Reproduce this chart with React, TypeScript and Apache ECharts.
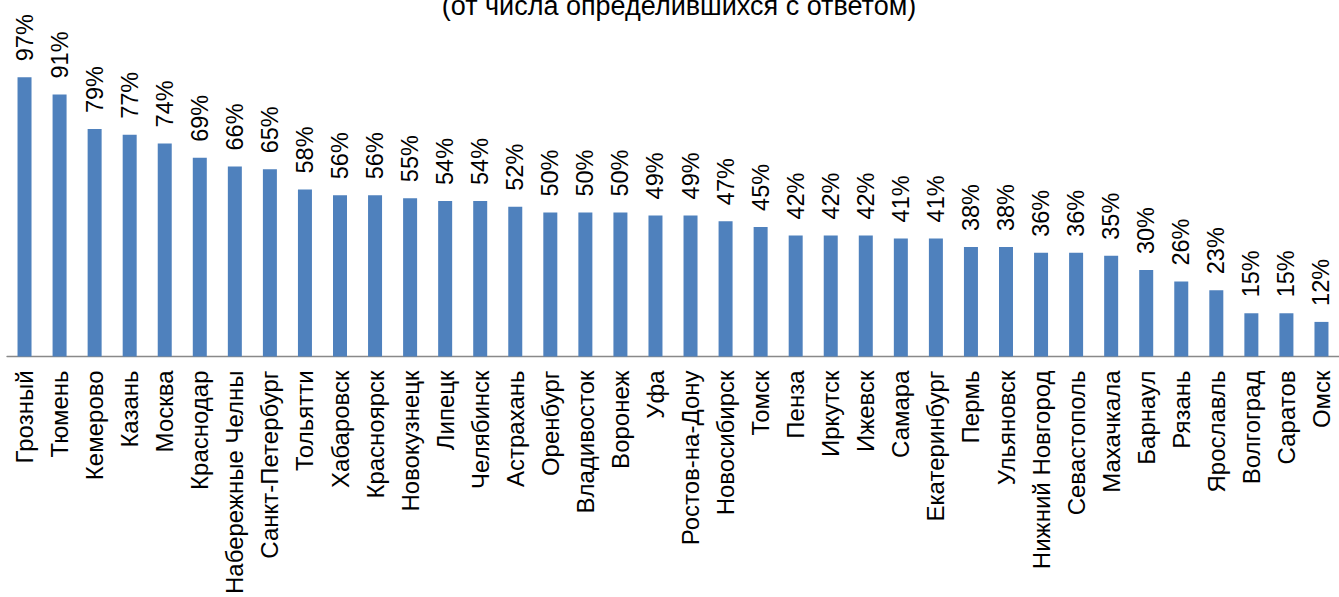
import React, { useEffect, useRef } from "react";
import * as echarts from "echarts";

const categories: string[] = [
  "Грозный", "Тюмень", "Кемерово", "Казань", "Москва", "Краснодар",
  "Набережные Челны", "Санкт-Петербург", "Тольятти", "Хабаровск", "Красноярск",
  "Новокузнецк", "Липецк", "Челябинск", "Астрахань", "Оренбург", "Владивосток",
  "Воронеж", "Уфа", "Ростов-на-Дону", "Новосибирск", "Томск", "Пенза", "Иркутск",
  "Ижевск", "Самара", "Екатеринбург", "Пермь", "Ульяновск", "Нижний Новгород",
  "Севастополь", "Махачкала", "Барнаул", "Рязань", "Ярославль", "Волгоград",
  "Саратов", "Омск",
];

const values: number[] = [
  97, 91, 79, 77, 74, 69, 66, 65, 58, 56, 56, 55, 54, 54, 52, 50, 50, 50, 49, 49,
  47, 45, 42, 42, 42, 41, 41, 38, 38, 36, 36, 35, 30, 26, 23, 15, 15, 12,
];

const subtitle = "(от числа определившихся с ответом)";

const FONT = "'Liberation Sans', Arial, sans-serif";

export default function App() {
  const ref = useRef<HTMLDivElement>(null);

  useEffect(() => {
    if (!ref.current) return;
    const chart = echarts.init(ref.current, null, { renderer: "svg" });
    chart.setOption({
      animation: false,
      backgroundColor: "#ffffff",
      graphic: [
        {
          type: "text",
          style: {
            text: subtitle,
            x: 679,
            y: 19.5,
            align: "center",
            verticalAlign: "bottom",
            fontSize: 27,
            fontFamily: FONT,
            fill: "#000000",
          },
        },
      ],
      grid: {
        left: 7,
        right: -4,
        top: 68.6,
        bottom: 238,
        containLabel: false,
      },
      xAxis: {
        type: "category",
        data: categories,
        axisLine: { show: true, lineStyle: { color: "#898989", width: 1.3 } },
        axisTick: { show: false },
        axisLabel: {
          interval: 0,
          rotate: 90,
          margin: 14,
          fontSize: 24,
          fontFamily: FONT,
          color: "#000000",
        },
      },
      yAxis: {
        type: "value",
        min: 0,
        max: 100,
        show: false,
        splitLine: { show: false },
      },
      series: [
        {
          type: "bar",
          data: values,
          barWidth: 14,
          itemStyle: { color: "#4F81BD" },
          label: {
            show: true,
            position: "top",
            rotate: 90,
            align: "left",
            verticalAlign: "middle",
            distance: 16,
            formatter: "{c}%",
            fontSize: 23.5,
            fontFamily: FONT,
            color: "#000000",
          },
        },
      ],
    });
    return () => chart.dispose();
  }, []);

  return (
    <div
      ref={ref}
      style={{ position: "absolute", left: 0, top: 0, width: 1339, height: 597 }}
    />
  );
}
